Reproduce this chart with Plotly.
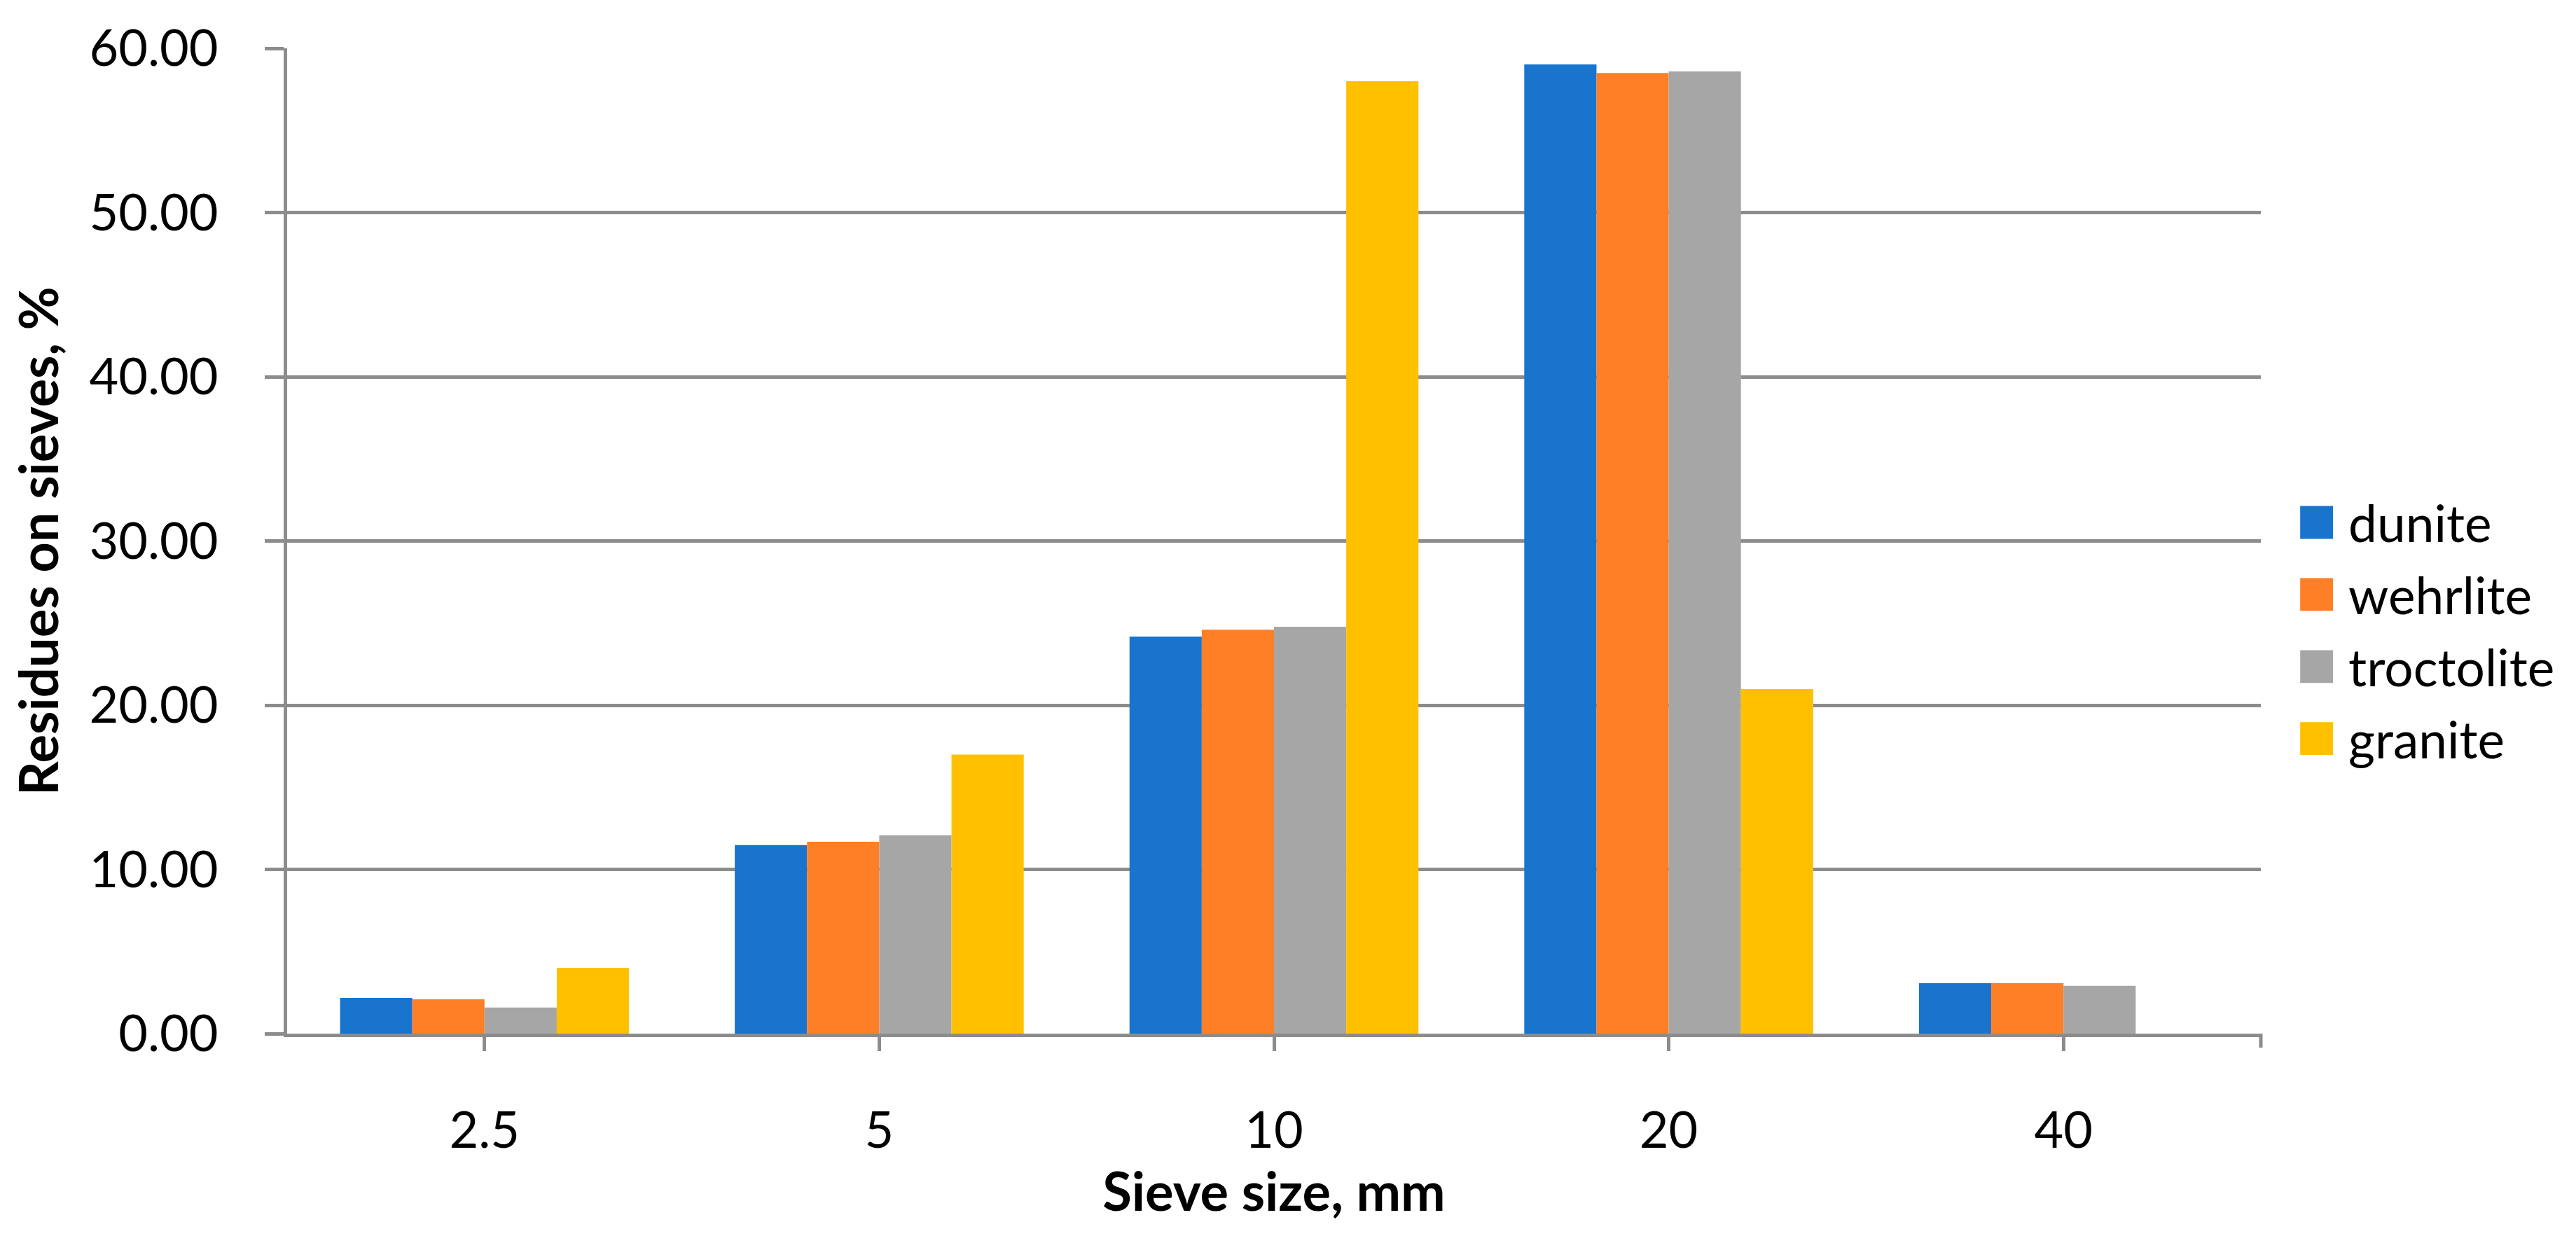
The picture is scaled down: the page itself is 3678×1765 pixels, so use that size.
import plotly.graph_objects as go

categories = ["2.5", "5", "10", "20", "40"]
series_names = ["dunite", "wehrlite", "troctolite", "granite"]
dunite = [2.18, 11.48, 24.18, 59.02, 3.07]
wehrlite = [2.09, 11.68, 24.60, 58.50, 3.07]
troctolite = [1.59, 12.08, 24.78, 58.59, 2.91]
granite = [4.01, 16.99, 58.00, 20.98, 0.00]
y_ticks = [0, 10, 20, 30, 40, 50, 60]
y_tick_labels = ["0.00", "10.00", "20.00", "30.00", "40.00", "50.00", "60.00"]
colors = ["#1874CD", "#FF7F27", "#A6A6A6", "#FFC000"]

series_values = [dunite, wehrlite, troctolite, granite]

W, H = 3678, 1765
L, R, T, B = 402, 458, 61, 297
GRID = "#8C8C8C"
FONT = "Lato"

fig = go.Figure()
for name, vals, col in zip(series_names, series_values, colors):
    fig.add_trace(go.Bar(x=categories, y=vals, name=name, legendgroup=name,
                         marker=dict(color=col, line=dict(width=0))))

fig.update_layout(
    width=W, height=H,
    margin=dict(l=L, r=R, t=T, b=B, autoexpand=False),
    paper_bgcolor="white", plot_bgcolor="white",
    barmode="group", bargap=0.268, bargroupgap=0,
    font=dict(family=FONT, color="black", size=72),
    legend=dict(
        x=1.0121, xanchor="left", y=0.409, yanchor="middle",
        font=dict(family=FONT, size=73, color="black"),
        itemwidth=81, tracegroupgap=5, bgcolor="rgba(0,0,0,0)",
    ),
    showlegend=True,
)

fig.update_xaxes(
    type="category",
    showline=True, linecolor=GRID, linewidth=5,
    ticks="outside", ticklen=20, tickwidth=5, tickcolor=GRID,
    tickfont=dict(family=FONT, size=72, color="black"),
    ticklabelstandoff=52,
    showgrid=False, zeroline=False,
    title=dict(text="<b>Sieve size, mm</b>", font=dict(family=FONT, size=76, color="black"), standoff=18),
    automargin=False,
)
fig.update_yaxes(
    range=[0, 60],
    tickvals=y_ticks, ticktext=y_tick_labels,
    showline=True, linecolor=GRID, linewidth=5,
    ticks="outside", ticklen=27, tickwidth=5, tickcolor=GRID,
    showgrid=True, gridcolor=GRID, gridwidth=5,
    zeroline=False,
    tickfont=dict(family=FONT, size=72, color="black"),
    ticklabelstandoff=52,
    title=dict(text="<b>Residues on sieves, %</b>", font=dict(family=FONT, size=76, color="black"), standoff=50),
    automargin=False,
)

# end tick at the right edge of the category axis
fig.add_shape(type="line", xref="x domain", yref="y domain", x0=1, x1=1, y0=0, y1=-20 / (H - T - B),
              line=dict(color=GRID, width=5))

post = """
var gd = document.getElementById('{plot_id}');
gd.querySelectorAll('.legendpoints path').forEach(function(p){
  var t = p.getAttribute('transform') || '';
  p.setAttribute('transform', t + ' scale(3.9)');
});
"""
fig.write_html("out.html", post_script=post)
